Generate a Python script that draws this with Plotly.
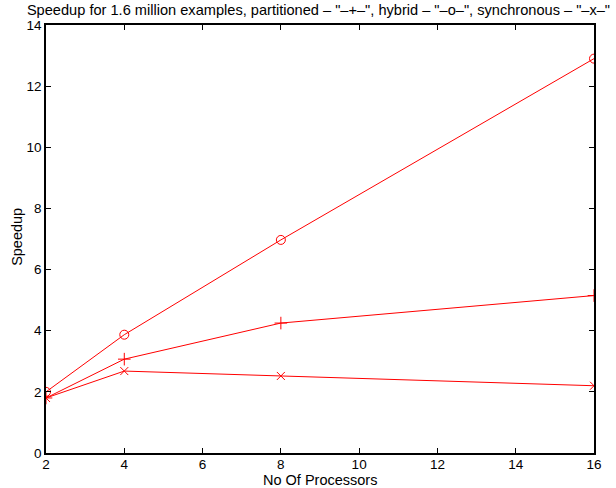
import plotly.graph_objects as go

processors = [2, 4, 8, 16]
partitioned = [1.80, 3.07, 4.25, 5.15]
hybrid = [2.00, 3.87, 6.97, 12.90]
synchronous = [1.80, 2.68, 2.52, 2.20]

x_ticks = [2, 4, 6, 8, 10, 12, 14, 16]
y_ticks = [0, 2, 4, 6, 8, 10, 12, 14]

red = "#ff0000"
fig = go.Figure()
fig.add_trace(go.Scatter(x=processors, y=partitioned, mode="lines+markers", name="partitioned",
                         line=dict(color=red, width=1),
                         marker=dict(symbol="cross-thin", size=9, line=dict(color=red, width=1))))
fig.add_trace(go.Scatter(x=processors, y=hybrid, mode="lines+markers", name="hybrid",
                         line=dict(color=red, width=1),
                         marker=dict(symbol="circle-open", size=9, color=red, line=dict(color=red, width=1))))
fig.add_trace(go.Scatter(x=processors, y=synchronous, mode="lines+markers", name="synchronous",
                         line=dict(color=red, width=1),
                         marker=dict(symbol="x-thin", size=8, line=dict(color=red, width=1))))

font = "Liberation Sans, Arial, Helvetica, sans-serif"
fig.update_layout(
    width=616, height=488,
    margin=dict(l=46, r=22, t=25, b=35, autoexpand=False),
    paper_bgcolor="white", plot_bgcolor="white",
    showlegend=False,
    font=dict(family=font, size=14, color="black"),
    title=dict(text="Speedup for 1.6 million examples, partitioned \u2013 \"\u2013+\u2013\", hybrid \u2013 \"\u2013o\u2013\", synchronous \u2013 \"\u2013x\u2013\"",
               x=0.517, xanchor="center", y=0.98, yanchor="middle",
               font=dict(family=font, size=14.6, color="black")),
    xaxis=dict(range=[2, 16], tickvals=x_ticks, ticktext=[str(v) for v in x_ticks],
               ticks="inside", ticklen=5, tickcolor="black", tickwidth=1,
               showline=True, linecolor="black", linewidth=1.5, mirror="ticks",
               showgrid=False, zeroline=False, automargin=False,
               ticklabelstandoff=-2,
               tickfont=dict(size=13.5)),
    yaxis=dict(range=[0, 14], tickvals=y_ticks, ticktext=[str(v) for v in y_ticks],
               ticks="inside", ticklen=5, tickcolor="black", tickwidth=1,
               showline=True, linecolor="black", linewidth=1.5, mirror="ticks",
               showgrid=False, zeroline=False, automargin=False,
               tickfont=dict(size=13.5)),
    annotations=[
        dict(text="No Of Processors", xref="paper", yref="paper", x=0.5, y=-0.063,
             xanchor="center", yanchor="middle", showarrow=False, font=dict(size=14.5)),
        dict(text="Speedup", xref="paper", yref="paper", x=-0.0529, y=0.505, textangle=-90,
             xanchor="center", yanchor="middle", showarrow=False, font=dict(size=14.5)),
    ],
)
fig.write_html("out.html", post_script="document.body.style.margin='0';",
               config={"displayModeBar": False})
